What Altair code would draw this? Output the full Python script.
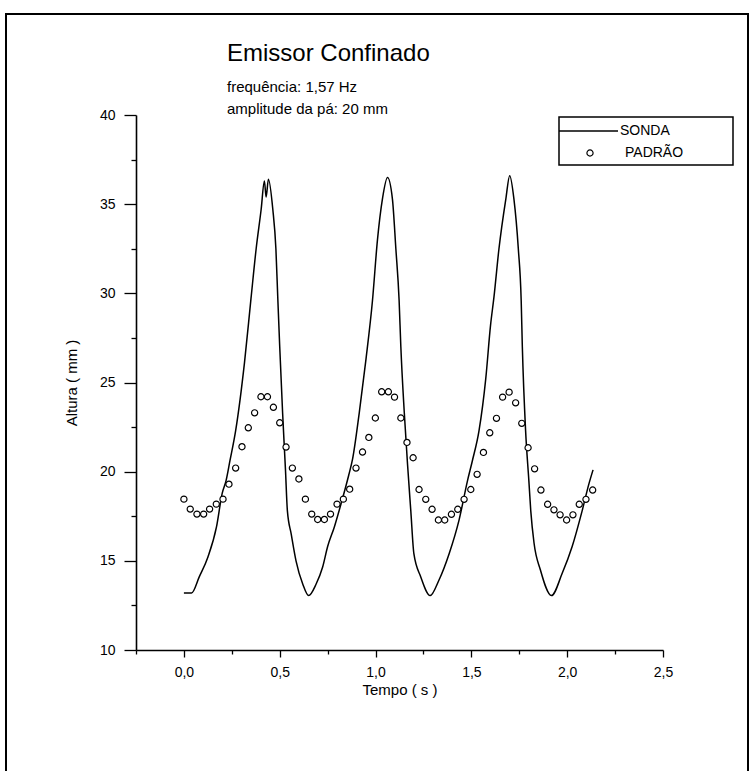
import altair as alt
import pandas as pd

# ---------------- data ----------------
sonda_t = [0.0, 0.04, 0.08, 0.125, 0.17, 0.20, 0.22, 0.24, 0.27, 0.316, 0.35, 0.377, 0.403,
           0.42, 0.429, 0.441, 0.464, 0.48, 0.49, 0.50, 0.515, 0.53, 0.54, 0.56, 0.585, 0.62,
           0.651, 0.69, 0.724, 0.75, 0.785, 0.82, 0.86, 0.88, 0.915, 0.95, 0.984, 1.01, 1.036,
           1.0625, 1.088, 1.106, 1.123, 1.132, 1.15, 1.167, 1.184, 1.20, 1.236, 1.285, 1.33,
           1.384, 1.436, 1.48, 1.505, 1.54, 1.575, 1.60, 1.618, 1.644, 1.68, 1.70, 1.722, 1.745,
           1.76, 1.766, 1.783, 1.80, 1.81, 1.827, 1.86, 1.918, 1.974, 2.026, 2.078, 2.113, 2.135]
sonda_h = [13.2, 13.2, 14.1, 15.2, 16.9, 18.8, 19.5, 20.6, 22.3, 26.1, 29.7, 32.5, 34.7,
           36.3, 35.4, 36.4, 34.7, 32.5, 29.7, 27.0, 23.3, 20.1, 17.8, 16.5, 15.0, 13.7,
           13.05, 13.7, 14.65, 15.8, 16.9, 18.2, 19.8, 20.7, 23.3, 26.3, 29.6, 33.0, 35.3,
           36.5, 35.3, 32.5, 29.6, 27.0, 23.3, 20.4, 17.8, 15.4, 14.1, 13.05, 13.9,
           15.4, 17.3, 19.5, 20.6, 22.3, 25.2, 28.2, 29.8, 32.5, 35.3, 36.6, 35.3, 32.5,
           29.6, 27.0, 22.3, 19.5, 17.8, 16.0, 14.5, 13.05, 14.3, 15.8, 17.8, 19.3, 20.1]

padrao_t = [0.000, 0.033, 0.068, 0.103, 0.134, 0.169, 0.204, 0.235, 0.270, 0.303, 0.336, 0.369,
            0.402, 0.436, 0.467, 0.500, 0.533, 0.566, 0.600, 0.634, 0.667, 0.698, 0.733, 0.765,
            0.799, 0.832, 0.865, 0.898, 0.932, 0.965, 0.999, 1.032, 1.067, 1.099, 1.132, 1.164,
            1.196, 1.227, 1.262, 1.295, 1.328, 1.361, 1.396, 1.429, 1.462, 1.497, 1.530, 1.563,
            1.596, 1.631, 1.663, 1.697, 1.731, 1.763, 1.796, 1.830, 1.863, 1.898, 1.931, 1.963,
            1.997, 2.030, 2.063, 2.098, 2.133]
padrao_h = [18.46, 17.90, 17.62, 17.62, 17.90, 18.18, 18.46, 19.30, 20.20, 21.40, 22.46, 23.30,
            24.20, 24.20, 23.61, 22.74, 21.38, 20.20, 19.59, 18.46, 17.62, 17.32, 17.32, 17.62,
            18.18, 18.46, 19.02, 20.20, 21.10, 21.92, 23.01, 24.48, 24.48, 24.18, 23.01, 21.64,
            20.78, 19.00, 18.45, 17.89, 17.29, 17.29, 17.61, 17.89, 18.45, 19.00, 19.85, 21.08,
            22.18, 22.99, 24.18, 24.46, 23.86, 22.71, 21.34, 20.16, 18.97, 18.17, 17.86, 17.58,
            17.29, 17.58, 18.17, 18.45, 18.97]

x_ticks = [-0.25, 0.0, 0.25, 0.5, 0.75, 1.0, 1.25, 1.5, 1.75, 2.0, 2.25, 2.5]
y_ticks = [10, 12.5, 15, 17.5, 20, 22.5, 25, 27.5, 30, 32.5, 35, 37.5, 40]
x_domain = [-0.25, 2.5]
y_domain = [10, 40]

legend_labels = ["SONDA", "PADRÃO"]
title_text = "Emissor Confinado"
subtitle_lines = ["frequência: 1,57 Hz", "amplitude da pá: 20 mm"]
x_title = "Tempo ( s )"
y_title = "Altura ( mm )"

# ---------------- chart ----------------
FONT = "Liberation Sans"
W, H = 527, 535

sonda = pd.DataFrame({"t": sonda_t, "h": sonda_h})
padrao = pd.DataFrame({"t": padrao_t, "h": padrao_h})
one_row = pd.DataFrame({"a": [0]})

xscale = alt.Scale(domain=x_domain, nice=False, zero=False)
yscale = alt.Scale(domain=y_domain, nice=False, zero=False)

x_major = "abs(datum.value*2 - round(datum.value*2)) < 0.001"
y_major = "abs(datum.value/5 - round(datum.value/5)) < 0.001"

xaxis = alt.Axis(
    values=x_ticks,
    labelExpr=f"({x_major}) && datum.value >= 0 ? replace(format(datum.value, '.1f'), '.', ',') : ''",
    tickSize={"condition": {"test": x_major, "value": 7}, "value": 4},
    tickWidth=1.3, tickColor="black", domainColor="black", domainWidth=1.6,
    labelFont=FONT, labelFontSize=14, labelColor="black", labelPadding=8,
    labelFlush=False, labelOverlap=False,
    title=x_title, titleFont=FONT, titleFontSize=15, titleFontWeight="normal",
    titleColor="black", titlePadding=3, grid=False,
)
yaxis = alt.Axis(
    values=y_ticks,
    labelExpr=f"({y_major}) ? format(datum.value, 'd') : ''",
    tickSize={"condition": {"test": y_major, "value": 12}, "value": 5},
    tickWidth=1.3, tickColor="black", domainColor="black", domainWidth=1.6,
    labelFont=FONT, labelFontSize=14, labelColor="black", labelPadding=9,
    labelFlush=False, labelOverlap=False,
    title=y_title, titleFont=FONT, titleFontSize=15, titleFontWeight="normal",
    titleColor="black", titlePadding=20, grid=False,
)

frame = alt.Chart(one_row).mark_rect(fillOpacity=0, stroke="black", strokeWidth=2).encode(
    x=alt.value(-130), x2=alt.value(612), y=alt.value(-101), y2=alt.value(680)
)

line = alt.Chart(sonda).mark_line(color="black", strokeWidth=1.5, interpolate="monotone").encode(
    x=alt.X("t:Q", scale=xscale, axis=xaxis),
    y=alt.Y("h:Q", scale=yscale, axis=yaxis),
)

points = alt.Chart(padrao).mark_point(
    shape="circle", filled=False, fill="white", fillOpacity=1,
    stroke="black", strokeWidth=1.2, size=38, opacity=1
).encode(
    x=alt.X("t:Q", scale=xscale),
    y=alt.Y("h:Q", scale=yscale),
)

leg_box = alt.Chart(one_row).mark_rect(fill="white", stroke="black", strokeWidth=1.5).encode(
    x=alt.value(423), x2=alt.value(597), y=alt.value(2), y2=alt.value(50)
)
leg_line = alt.Chart(one_row).mark_rule(color="black", strokeWidth=1.5).encode(
    x=alt.value(423), x2=alt.value(482), y=alt.value(16)
)
leg_point = alt.Chart(one_row).mark_point(
    shape="circle", filled=False, fill="white", fillOpacity=1,
    stroke="black", strokeWidth=1.2, size=38
).encode(x=alt.value(454), y=alt.value(38))
leg_text1 = alt.Chart(one_row).mark_text(
    text=legend_labels[0], align="left", baseline="middle", font=FONT, fontSize=14, color="black"
).encode(x=alt.value(484), y=alt.value(16))
leg_text2 = alt.Chart(one_row).mark_text(
    text=legend_labels[1], align="left", baseline="middle", font=FONT, fontSize=14, color="black"
).encode(x=alt.value(489), y=alt.value(38))

chart = alt.layer(
    frame, line, points, leg_box, leg_line, leg_point, leg_text1, leg_text2
).properties(
    width=W, height=H,
    background="white",
    title=alt.TitleParams(
        text=title_text, subtitle=subtitle_lines,
        anchor="start", frame="group", dx=91, offset=-104,
        font=FONT, fontSize=24, fontWeight="normal", color="black",
        subtitleFont=FONT, subtitleFontSize=15, subtitleColor="black",
        subtitleLineHeight=22, subtitlePadding=14,
    ),
    autosize=alt.AutoSizeParams(type="none"),
    padding={"left": 136, "top": 115, "right": 90, "bottom": 121},
).configure_view(stroke=None, strokeWidth=0)

chart.save("out.html", embed_options={"renderer": "svg", "actions": False})
